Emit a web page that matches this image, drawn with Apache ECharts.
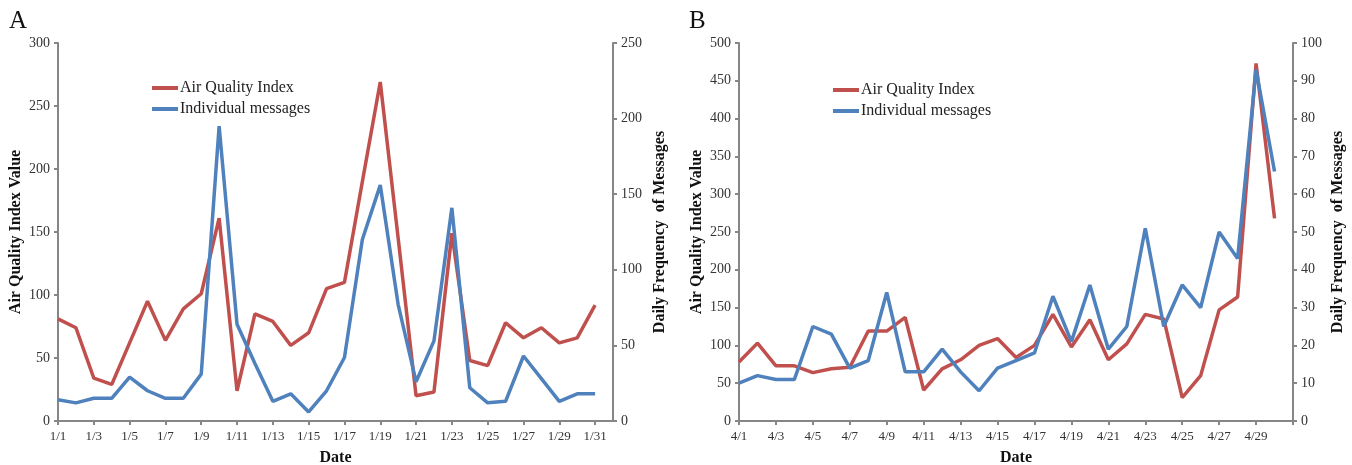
<!DOCTYPE html>
<html>
<head>
<meta charset="utf-8">
<script src="https://cdn.jsdelivr.net/npm/echarts@6/dist/echarts.min.js"></script>
<style>
  html, body { margin: 0; padding: 0; background: #fff; }
  #chart { width: 1352px; height: 465px; }
</style>
</head>
<body>
<div id="chart"></div>
<script>
// panel A - January
var daysA = ['1/1','1/2','1/3','1/4','1/5','1/6','1/7','1/8','1/9','1/10','1/11','1/12','1/13','1/14','1/15','1/16',
  '1/17','1/18','1/19','1/20','1/21','1/22','1/23','1/24','1/25','1/26','1/27','1/28','1/29','1/30','1/31']
var aqiA = [81, 74, 34, 29, 62, 95, 64, 89, 101, 161, 24, 85, 79, 60, 70, 105,
  110, 190, 269, 145, 20, 23, 149, 48, 44, 78, 66, 74, 62, 66, 92]
var msgA = [14, 12, 15, 15, 29, 20, 15, 15, 31, 195, 64, 38, 13, 18, 6, 20,
  42, 120, 156, 77, 26, 53, 141, 22, 12, 13, 43, 28, 13, 18, 18]

// panel B - April
var daysB = ['4/1','4/2','4/3','4/4','4/5','4/6','4/7','4/8','4/9','4/10','4/11','4/12','4/13','4/14','4/15',
  '4/16','4/17','4/18','4/19','4/20','4/21','4/22','4/23','4/24','4/25','4/26','4/27','4/28','4/29','4/30']
var aqiB = [78, 103, 73, 73, 64, 69, 71, 119, 119, 137, 41, 69, 81, 100, 109,
  84, 100, 141, 98, 134, 81, 102, 141, 135, 31, 60, 147, 164, 473, 268]
var msgB = [10, 12, 11, 11, 25, 23, 14, 16, 34, 13, 13, 19, 13, 8, 14,
  16, 18, 33, 21, 36, 19, 25, 51, 25, 36, 30, 50, 43, 93, 66]

var RED = '#c0504d'
var BLUE = '#4f81bd'
var AXIS = '#868686'
var FONT = '"Liberation Serif", "Times New Roman", serif'

function xAx(grid, days, max) {
  return {
    gridIndex: grid, type: 'category', data: days, boundaryGap: false, max: max,
    name: 'Date', nameLocation: 'middle', nameGap: 29,
    nameTextStyle: { fontFamily: FONT, fontWeight: 'bold', fontSize: 16, color: '#111' },
    axisLine: { lineStyle: { color: AXIS, width: 2 } },
    axisTick: { interval: 1, length: 4, lineStyle: { color: AXIS, width: 2 } },
    axisLabel: { interval: 1, margin: 9, fontFamily: FONT, fontSize: 13, color: '#333' },
    splitLine: { show: false }
  }
}

function yAx(grid, pos, max, step, name, gap) {
  return {
    gridIndex: grid, type: 'value', position: pos, min: 0, max: max, interval: step,
    name: name, nameLocation: 'middle', nameRotate: 90, nameGap: gap,
    nameTextStyle: { fontFamily: FONT, fontWeight: 'bold', fontSize: 16, color: '#111' },
    axisLine: { show: true, lineStyle: { color: AXIS, width: 2 } },
    axisTick: { show: true, length: 4, lineStyle: { color: AXIS, width: 2 } },
    axisLabel: { margin: 8, fontFamily: FONT, fontSize: 14, color: '#333' },
    splitLine: { show: false }
  }
}

function line(name, data, xi, yi, color) {
  return {
    name: name, type: 'line', data: data, xAxisIndex: xi, yAxisIndex: yi,
    symbol: 'none', lineStyle: { color: color, width: 3.5 }, itemStyle: { color: color },
    animation: false
  }
}

function leg(left, top) {
  return {
    orient: 'vertical', left: left, top: top, itemGap: 5,
    icon: 'rect', itemWidth: 26, itemHeight: 4,
    textStyle: { fontFamily: FONT, fontSize: 16, color: '#222', padding: [0, 0, 0, -3] },
    data: ['Air Quality Index', 'Individual messages']
  }
}

var chart = echarts.init(document.getElementById('chart'))
chart.setOption({
  backgroundColor: '#fff',
  animation: false,
  title: [
    { text: 'A', left: 4, top: 4, textStyle: { fontFamily: FONT, fontSize: 25, fontWeight: 'normal', color: '#111' } },
    { text: 'B', left: 684, top: 4, textStyle: { fontFamily: FONT, fontSize: 25, fontWeight: 'normal', color: '#111' } }
  ],
  legend: [leg(147, 75), leg(828, 77)],
  grid: [
    { left: 58, top: 43, width: 555, height: 378, outerBoundsMode: 'none' },
    { left: 739, top: 43, width: 554, height: 378, outerBoundsMode: 'none' }
  ],
  xAxis: [xAx(0, daysA, 30.55), xAx(1, daysB, 29.59)],
  yAxis: [
    yAx(0, 'left', 300, 50, 'Air Quality Index Value', 34),
    yAx(0, 'right', 250, 50, 'Daily Frequency  of Messages', 39),
    yAx(1, 'left', 500, 50, 'Air Quality Index Value', 34),
    yAx(1, 'right', 100, 10, 'Daily Frequency  of Messages', 37)
  ],
  series: [
    line('Air Quality Index', aqiA, 0, 0, RED),
    line('Individual messages', msgA, 0, 1, BLUE),
    line('Air Quality Index', aqiB, 1, 2, RED),
    line('Individual messages', msgB, 1, 3, BLUE)
  ]
})
</script>
</body>
</html>
